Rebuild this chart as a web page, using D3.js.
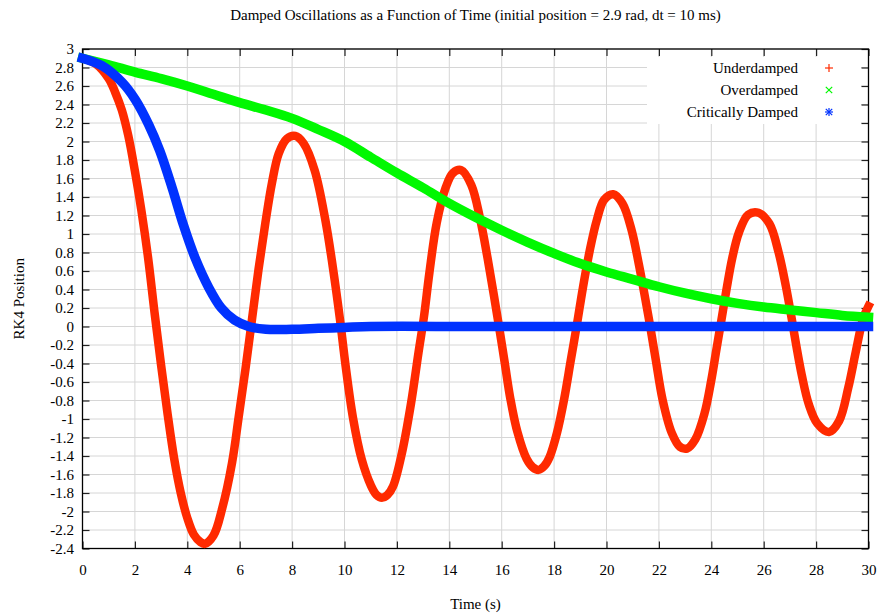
<!DOCTYPE html>
<html>
<head>
<meta charset="utf-8">
<script src="https://cdn.jsdelivr.net/npm/d3@7"></script>
<style>
  body { margin: 0; background: #fff; }
  text { font-family: "Liberation Serif", "Times New Roman", serif; fill: #000; }
</style>
</head>
<body>
<div id="chart"></div>
<script>
// Data: [time (s), position (rad)]
const underdamped = [
  [0, 2.90], [0.5, 2.84], [1.0, 2.68], [1.25, 2.53], [1.5, 2.34], [1.75, 2.06], [2.0, 1.68],
  [2.25, 1.25], [2.5, 0.75], [2.75, 0.15], [3.0, -0.42], [3.25, -0.95], [3.5, -1.43], [3.75, -1.80],
  [4.0, -2.07], [4.25, -2.25], [4.5, -2.33], [4.67, -2.35], [5.0, -2.26],
  [5.33, -1.97], [5.71, -1.47], [5.96, -0.98], [6.22, -0.46], [6.47, 0.08], [6.72, 0.62],
  [6.98, 1.12], [7.23, 1.55], [7.49, 1.87], [7.8, 2.03], [8.12, 2.06], [8.44, 1.98], [8.86, 1.69],
  [9.27, 1.15], [9.55, 0.65], [9.83, 0.07], [10.04, -0.42], [10.32, -0.98], [10.66, -1.44],
  [11.01, -1.72], [11.22, -1.82], [11.43, -1.85], [11.64, -1.82], [11.85, -1.73], [12.19, -1.37],
  [12.54, -0.83], [12.82, -0.29], [13.03, 0.10], [13.24, 0.58], [13.52, 1.12], [13.86, 1.50],
  [14.14, 1.66], [14.46, 1.69], [14.84, 1.53], [15.18, 1.16], [15.46, 0.74], [15.7, 0.34],
  [15.92, -0.04], [16.12, -0.40], [16.33, -0.78], [16.6, -1.14], [16.95, -1.43], [17.18, -1.52],
  [17.41, -1.55], [17.62, -1.51], [17.83, -1.41], [18.11, -1.15],
  [18.38, -0.79], [18.64, -0.36], [18.87, 0.02], [19.1, 0.42], [19.36, 0.82], [19.63, 1.15],
  [19.91, 1.37], [20.26, 1.43], [20.61, 1.33], [20.96, 1.04], [21.23, 0.68], [21.48, 0.30],
  [21.68, -0.02], [21.88, -0.36], [22.14, -0.79], [22.49, -1.15], [22.8, -1.30], [23.07, -1.32],
  [23.39, -1.22], [23.74, -0.94], [24.0, -0.58], [24.2, -0.24], [24.38, 0.06], [24.58, 0.40],
  [24.8, 0.74], [25.06, 1.02], [25.41, 1.21], [25.8, 1.23], [26.22, 1.11], [26.57, 0.80],
  [26.85, 0.43], [27.06, 0.10], [27.24, -0.20], [27.45, -0.52], [27.72, -0.84], [28.05, -1.05],
  [28.49, -1.14], [28.88, -1.02], [29.23, -0.66], [29.51, -0.28], [29.79, 0.08], [30, 0.22]
];
const overdamped = [
  [0, 2.90], [1, 2.83], [2, 2.75], [3, 2.68], [4, 2.60], [5, 2.51], [6, 2.42], [7, 2.34],
  [8, 2.25], [9, 2.13], [10, 2.00], [11, 1.83], [12, 1.66], [13, 1.50], [14, 1.33], [15, 1.18],
  [16, 1.04], [17, 0.91], [18, 0.79], [19, 0.68], [20, 0.59], [21, 0.51], [22, 0.43], [23, 0.36],
  [24, 0.30], [25, 0.25], [26, 0.21], [27, 0.18], [28, 0.15], [29, 0.12], [30, 0.10]
];
const critical = [
  [0, 2.90], [0.74, 2.82], [1.51, 2.64], [2.02, 2.45], [2.53, 2.18], [2.95, 1.90], [3.42, 1.50],
  [3.85, 1.10], [4.3, 0.74], [4.82, 0.42], [5.3, 0.20], [5.8, 0.07], [6.34, 0.0], [7, -0.03],
  [8, -0.03], [9, -0.02], [10, -0.01], [11, 0], [15, 0], [20, 0], [25, 0], [30, 0]
];

const seriesNames = ["Underdamped", "Overdamped", "Critically Damped"];
const xTicks = d3.range(0, 31, 2);
const yTicks = d3.range(-12, 16).map(d => d / 5);

// Dimensions of chart.
const width = 878, height = 614;
const margin = { top: 49, right: 9.5, bottom: 65.5, left: 82.5 };
const colors = ["#ff2a00", "#00f800", "#0032ff"];
const fontSize = 15;

const svg = d3.select("#chart").append("svg")
  .attr("width", width)
  .attr("height", height);

const x = d3.scaleLinear().domain([0, 30]).range([margin.left, width - margin.right]);
const y = d3.scaleLinear().domain([-2.4, 3]).range([height - margin.bottom, margin.top]);

// Grid
svg.append("g").selectAll("line")
  .data(xTicks)
  .join("line")
  .attr("x1", d => x(d)).attr("x2", d => x(d))
  .attr("y1", y(3)).attr("y2", y(-2.4))
  .attr("stroke", "#d6d6d6");
svg.append("g").selectAll("line")
  .data(yTicks)
  .join("line")
  .attr("x1", x(0)).attr("x2", x(30))
  .attr("y1", d => y(d)).attr("y2", d => y(d))
  .attr("stroke", "#d6d6d6");

// Key background
svg.append("rect")
  .attr("x", 647).attr("y", 57)
  .attr("width", 214).attr("height", 67)
  .attr("fill", "#fff");

// Axes (ticks point inward, mirrored on top and right)
const fmt = d => (Math.round(d * 10) / 10).toString();
function styleAxis(g) {
  g.select(".domain").remove();
  g.selectAll(".tick line").attr("stroke", "#222").attr("stroke-width", 1.2);
  g.selectAll(".tick text").attr("font-size", fontSize).attr("font-family", "Liberation Serif");
}
svg.append("g")
  .attr("transform", `translate(0,${y(-2.4)})`)
  .call(d3.axisBottom(x).tickValues(xTicks).tickSize(-7).tickPadding(16).tickFormat(fmt))
  .call(styleAxis);
svg.append("g")
  .attr("transform", `translate(0,${y(3)})`)
  .call(d3.axisTop(x).tickValues(xTicks).tickSize(-7).tickFormat(""))
  .call(styleAxis);
svg.append("g")
  .attr("transform", `translate(${x(0)},0)`)
  .call(d3.axisLeft(y).tickValues(yTicks).tickSize(-7).tickPadding(8.5).tickFormat(fmt))
  .call(styleAxis);
svg.append("g")
  .attr("transform", `translate(${x(30)},0)`)
  .call(d3.axisRight(y).tickValues(yTicks).tickSize(-7).tickFormat(""))
  .call(styleAxis);

// Border
svg.append("rect")
  .attr("x", x(0)).attr("y", y(3))
  .attr("width", x(30) - x(0)).attr("height", y(-2.4) - y(3))
  .attr("fill", "none").attr("stroke", "#000").attr("stroke-width", 1.3);

// Curves
const line = d3.line()
  .x(d => x(d[0]))
  .y(d => y(d[1]))
  .curve(d3.curveCatmullRom.alpha(0.5));

[underdamped, overdamped, critical].forEach((data, i) => {
  svg.append("path")
    .datum(data)
    .attr("fill", "none")
    .attr("stroke", colors[i])
    .attr("stroke-width", i === 0 ? 8.5 : 9.5)
    .attr("stroke-linecap", "square")
    .attr("d", line);
});

// Key
const keyY = [68, 90, 112];
seriesNames.forEach((name, i) => {
  svg.append("text")
    .attr("x", 798).attr("y", keyY[i])
    .attr("dy", "0.35em")
    .attr("text-anchor", "end")
    .attr("font-size", fontSize)
    .text(name);
  const g = svg.append("g")
    .attr("transform", `translate(829,${keyY[i]})`)
    .attr("stroke", colors[i])
    .attr("stroke-width", 1.2);
  const s = 4;
  if (i !== 1) {
    g.append("line").attr("x1", -s).attr("x2", s).attr("y1", 0).attr("y2", 0);
    g.append("line").attr("x1", 0).attr("x2", 0).attr("y1", -s).attr("y2", s);
  }
  if (i !== 0) {
    g.append("line").attr("x1", -s * 0.8).attr("x2", s * 0.8).attr("y1", -s * 0.8).attr("y2", s * 0.8);
    g.append("line").attr("x1", -s * 0.8).attr("x2", s * 0.8).attr("y1", s * 0.8).attr("y2", -s * 0.8);
  }
});

// Titles
svg.append("text")
  .attr("x", (x(0) + x(30)) / 2).attr("y", 20)
  .attr("text-anchor", "middle")
  .attr("font-size", fontSize)
  .text("Damped Oscillations as a Function of Time (initial position = 2.9 rad, dt = 10 ms)");
svg.append("text")
  .attr("x", (x(0) + x(30)) / 2).attr("y", 609)
  .attr("text-anchor", "middle")
  .attr("font-size", fontSize)
  .text("Time (s)");
svg.append("text")
  .attr("transform", `translate(24,${(y(3) + y(-2.4)) / 2}) rotate(-90)`)
  .attr("text-anchor", "middle")
  .attr("font-size", fontSize)
  .text("RK4 Position");
</script>
</body>
</html>
